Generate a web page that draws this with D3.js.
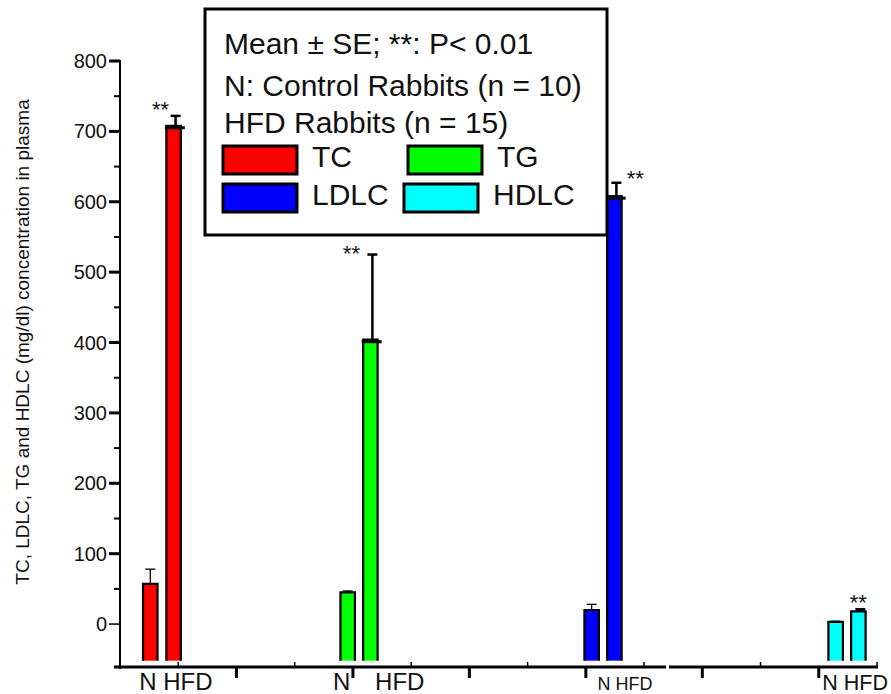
<!DOCTYPE html>
<html>
<head>
<meta charset="utf-8">
<script src="https://cdn.jsdelivr.net/npm/d3@7"></script>
<style>
  body { margin: 0; background: #fff; }
  svg { display: block; font-family: "Liberation Sans", Arial, sans-serif; }
</style>
</head>
<body>
<svg id="chart" width="891" height="694"></svg>
<script>
// values
const groups = ['TC', 'TG', 'LDLC', 'HDLC'];
const colors = ['#ff0000', '#00ff00', '#0000ff', '#00ffff'];
const nMean = [57, 45, 20, 3];
const nSE = [21, 2, 8, 1];
const hfdMean = [708, 404, 608, 18];
const hfdSE = [14, 121, 19, 3];
// where each bar sits along the x axis (axis units 0..13)
const nPos = [0.52, 3.91, 8.10, 12.29];
const hfdPos = [0.92, 4.30, 8.49, 12.68];
const yTicks = [0, 100, 200, 300, 400, 500, 600, 700, 800];
const legendLines = ['Mean \u00b1 SE; **: P< 0.01', 'N: Control Rabbits (n = 10)', 'HFD Rabbits (n = 15)'];

// layout
const svg = d3.select('#chart');
const y = d3.scaleLinear().domain([-61, 800]).range([667, 61]);
const x = d3.scaleLinear().domain([0, 13]).range([120, 877]);
const barBase = -52;
const barW = 14.5;
const starDx = [-13, -19, 21, 0];
const starDy = [1, 6, 3, 1];
const xLabels = [
  { text: 'N HFD', at: 0.33, size: 24 },
  { text: 'N', at: 3.66, size: 24 },
  { text: 'HFD', at: 4.38, size: 24 },
  { text: 'N HFD', at: 8.2, size: 18 },
  { text: 'N HFD', at: 12.06, size: 21.5 }
];

// y axis
const yAxis = svg.append('g');
yAxis.append('line').attr('x1', 120).attr('x2', 120)
  .attr('y1', y(800) - 1).attr('y2', y(-61) + 2)
  .attr('stroke', '#000').attr('stroke-width', 2);
yAxis.selectAll('.major').data(yTicks).join('line')
  .attr('x1', 109).attr('x2', 120)
  .attr('y1', d => y(d)).attr('y2', d => y(d))
  .attr('stroke', '#000').attr('stroke-width', d => d === 0 ? 1.5 : 3);
yAxis.selectAll('.minor').data(d3.range(50, 800, 100)).join('line')
  .attr('x1', 114).attr('x2', 120)
  .attr('y1', d => y(d)).attr('y2', d => y(d))
  .attr('stroke', '#000').attr('stroke-width', 2);
yAxis.selectAll('text').data(yTicks).join('text')
  .attr('x', 107).attr('y', d => y(d)).attr('dy', '0.35em')
  .attr('text-anchor', 'end').attr('font-size', 20).attr('fill', '#111')
  .text(d => d);

svg.append('text')
  .attr('transform', `translate(22,${y(-61) - 325}) rotate(-90)`)
  .attr('text-anchor', 'middle').attr('dy', '0.35em')
  .attr('font-size', 19).attr('fill', '#111')
  .text('TC, LDLC, TG and HDLC (mg/dl) concentration in plasma');

// x axis
const xAxis = svg.append('g');
xAxis.append('line').attr('x1', 114).attr('x2', 666)
  .attr('y1', y(-61)).attr('y2', y(-61)).attr('stroke', '#000').attr('stroke-width', 3);
xAxis.append('line').attr('x1', 669).attr('x2', x(13) + 1)
  .attr('y1', y(-61)).attr('y2', y(-61)).attr('stroke', '#000').attr('stroke-width', 3);
const xt = d3.range(1, 14);
xAxis.selectAll('.xt').data(xt).join('line')
  .attr('x1', d => x(d)).attr('x2', d => x(d))
  .attr('y1', y(-61))
  .attr('y2', d => d % 2 ? y(-61) - 5 : y(-61) + 11)
  .attr('stroke', '#000').attr('stroke-width', d => d % 2 ? 1.5 : 3);
svg.selectAll('.xl').data(xLabels).join('text')
  .attr('x', d => x(d.at)).attr('y', 690)
  .attr('font-size', d => d.size).attr('fill', '#111')
  .text(d => d.text);

// bars
const bars = [];
groups.forEach((g, i) => {
  bars.push({ g, i, pos: nPos[i], mean: nMean[i], se: nSE[i], hfd: false });
  bars.push({ g, i, pos: hfdPos[i], mean: hfdMean[i], se: hfdSE[i], hfd: true });
});
const bg = svg.append('g');
bg.selectAll('rect').data(bars).join('rect')
  .attr('x', d => x(d.pos) - barW / 2).attr('width', barW)
  .attr('y', d => y(d.mean)).attr('height', d => y(barBase) - y(d.mean))
  .attr('fill', d => colors[d.i]);
bg.selectAll('path.edge').data(bars).join('path')
  .attr('fill', 'none').attr('stroke', '#000').attr('stroke-width', 2.2)
  .attr('d', d => {
    const x0 = x(d.pos) - barW / 2, x1 = x(d.pos) + barW / 2;
    return `M${x0},${y(barBase)}V${y(d.mean)}H${x1}V${y(barBase)}`;
  });

// error bars
const eb = svg.append('g').attr('stroke', '#000');
eb.selectAll('.ev').data(bars).join('line')
  .attr('x1', d => x(d.pos) + (d.hfd ? 2 : 0)).attr('x2', d => x(d.pos) + (d.hfd ? 2 : 0))
  .attr('y1', d => y(d.mean)).attr('y2', d => y(d.mean + d.se))
  .attr('stroke-width', d => d.hfd ? 2.5 : 1.3);
eb.selectAll('.ec').data(bars).join('line')
  .attr('x1', d => x(d.pos) - 5 + (d.hfd ? 2 : 0)).attr('x2', d => x(d.pos) + 5 + (d.hfd ? 2 : 0))
  .attr('y1', d => y(d.mean + d.se)).attr('y2', d => y(d.mean + d.se))
  .attr('stroke-width', d => d.hfd ? 2.5 : 1.3);
eb.selectAll('.et').data(bars.filter(d => d.hfd && d.i < 3)).join('line')
  .attr('x1', d => x(d.pos) - barW / 2 - 1.5).attr('x2', d => x(d.pos) + barW / 2 + 4)
  .attr('y1', d => y(d.mean) + 2).attr('y2', d => y(d.mean) + 2)
  .attr('stroke-width', 3);

// significance stars
svg.selectAll('.star').data(bars.filter(d => d.hfd)).join('text')
  .attr('x', d => x(d.pos) + starDx[d.i])
  .attr('y', d => y(d.mean + d.se) + starDy[d.i])
  .attr('text-anchor', 'middle').attr('font-size', 22).attr('fill', '#111')
  .text('**');

// legend
const lg = svg.append('g');
lg.append('rect').attr('x', 205).attr('y', 9).attr('width', 402).attr('height', 226)
  .attr('fill', '#fff').attr('stroke', '#000').attr('stroke-width', 3);
lg.selectAll('.ll').data(legendLines).join('text')
  .attr('x', 224).attr('y', (d, i) => [54, 96, 133][i])
  .attr('font-size', 30).attr('fill', '#111').text(d => d);
const sw = [
  { i: 0, x: 223, y: 146 }, { i: 1, x: 408, y: 146 },
  { i: 2, x: 223, y: 184 }, { i: 3, x: 404, y: 184 }
];
lg.selectAll('.sw').data(sw).join('rect')
  .attr('x', d => d.x).attr('y', d => d.y).attr('width', 74).attr('height', 28)
  .attr('fill', d => colors[d.i]).attr('stroke', '#000').attr('stroke-width', 3);
lg.selectAll('.st').data(sw).join('text')
  .attr('x', d => d.x + 89).attr('y', d => d.y + 21)
  .attr('font-size', 30).attr('fill', '#111').text(d => groups[d.i]);
</script>
</body>
</html>
